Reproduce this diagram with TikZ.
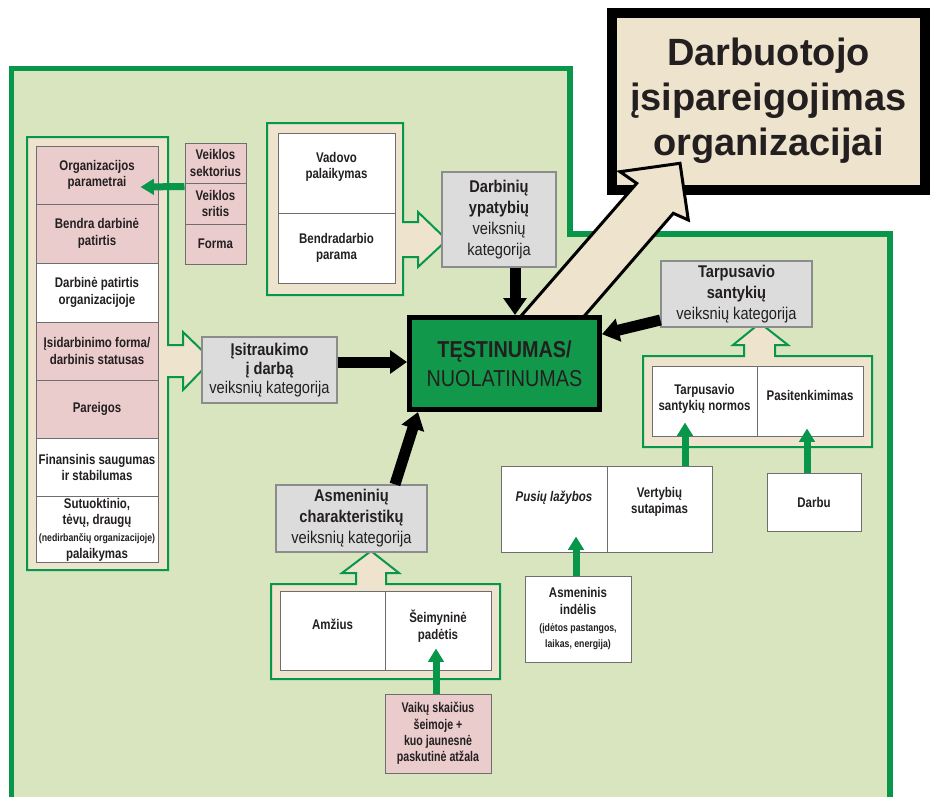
\documentclass[tikz,border=0pt]{standalone}
\usepackage{fontspec}
\setmainfont{Liberation Sans}
\newfontfamily\nf[FakeStretch=0.82]{Liberation Sans}
\newfontfamily\cf[FakeStretch=0.86]{Liberation Sans}
\newfontfamily\vf[FakeStretch=0.76]{Liberation Sans}
\usetikzlibrary{arrows.meta,calc}
\definecolor{bggreen}{HTML}{D8E5BF}
\definecolor{frgreen}{HTML}{07964A}
\definecolor{beige}{HTML}{EEE3CC}
\definecolor{pinkc}{HTML}{EBCCCC}
\definecolor{grayc}{HTML}{DCDCDC}
\definecolor{grayline}{HTML}{8C8C8C}
\definecolor{cellline}{HTML}{6E6E6E}
\definecolor{midgreen}{HTML}{12984A}
\definecolor{txt}{HTML}{231F20}
\begin{document}
\begin{tikzpicture}[x=0.75pt,y=-0.75pt,
  cell/.style={draw=cellline,line width=0.75pt,inner sep=1pt,align=center,text=txt,
    font={\nf\bfseries\fontsize{10.5}{12.5}\selectfont}},
  pinkcell/.style={cell,fill=pinkc},
  whitecell/.style={cell,fill=white},
  celltext/.style={inner sep=0pt,align=center,text=txt,font={\nf\bfseries\fontsize{10.5}{12.5}\selectfont}},
  cat/.style={draw=grayline,line width=0.9pt,fill=grayc,align=center,text=txt,inner sep=1pt,
    font={\cf\fontsize{12.75}{15.75}\selectfont}},
  frame/.style={draw=frgreen,line width=1.5pt,fill=beige,line join=miter},
  barrow/.style={draw=black,line width=8.25pt,-{Triangle[length=12.75pt,width=17pt]}},
  garrow/.style={draw=frgreen,line width=5.25pt,-{Triangle[length=10pt,width=11.5pt]}}]

\fill[white] (0,0) rectangle (930,796);
\useasboundingbox (0,0) rectangle (930,796);

% green region
\path[fill=bggreen,draw=frgreen,line width=4pt] (11.5,68.5) -- (570,68.5) -- (570,234) -- (890,234) -- (890,806) -- (11.5,806) -- cycle;

% title box
\node[draw=black,line width=7.5pt,fill=beige,minimum width=234.75pt,minimum height=132.75pt,
  inner sep=0pt,align=center,text=txt,font={\bfseries\fontsize{28.5}{33.75}\selectfont}]
  (title) at (768.5,101) {Darbuotojo\\įsipareigojimas\\organizacijai};

% big beige arrow
\draw[fill=beige,line width=2.25pt,line join=miter] (508.8,330) -- (636.7,183.3) -- (620,171.7) -- (680,163.3) -- (688.3,220) -- (673.3,213.3) -- (572.2,330) -- cycle;

% frames
\draw[frame] (27,137) -- (168,137) -- (168,345) -- (183,345) -- (183,332) -- (212,360) -- (183,390) -- (183,377) -- (168,377) -- (168,570) -- (27,570) -- cycle;
\draw[frame] (267,123) -- (403,123) -- (403,222) -- (418,222) -- (418,212) -- (447,240) -- (418,267) -- (418,257) -- (403,257) -- (403,295) -- (267,295) -- cycle;
\draw[frame] (643,356) -- (744,356) -- (744,345) -- (733,345) -- (760,323) -- (788,345) -- (775,345) -- (775,356) -- (872,356) -- (872,447) -- (643,447) -- cycle;
\draw[frame] (271,584) -- (356,584) -- (356,573) -- (342,573) -- (371,551) -- (399,573) -- (386,573) -- (386,584) -- (500,584) -- (500,679) -- (271,679) -- cycle;

% left column cells
\node[pinkcell,minimum width=91.5pt,minimum height=43.5pt] (c1) at (97,175) {Organizacijos\\parametrai};
\node[pinkcell,minimum width=91.5pt,minimum height=44.25pt] (c2) at (97,233.5) {Bendra darbinė\\patirtis};
\node[whitecell,minimum width=91.5pt,minimum height=44.25pt] (c3) at (97,292.5) {Darbinė patirtis\\organizacijoje};
\node[pinkcell,minimum width=91.5pt,minimum height=43.5pt] (c4) at (97,351) {Įsidarbinimo forma/\\darbinis statusas};
\node[pinkcell,minimum width=91.5pt,minimum height=43.5pt] (c5) at (97,409) {Pareigos};
\node[whitecell,minimum width=91.5pt,minimum height=44.25pt] (c6) at (97,467.5) {Finansinis saugumas\\ir stabilumas};
\node[whitecell,minimum width=91.5pt,minimum height=48.75pt] (c7) at (97,529.5) {Sutuoktinio,\\tėvų, draugų\\{\fontsize{8}{9}\selectfont (nedirbančių organizacijoje)}\\palaikymas};

% veiklos cells
\node[pinkcell,minimum width=45.75pt,minimum height=30pt] (v1) at (215.5,163) {Veiklos\\sektorius};
\node[pinkcell,minimum width=45.75pt,minimum height=30.75pt] (v2) at (215.5,203.5) {Veiklos\\sritis};
\node[pinkcell,minimum width=45.75pt,minimum height=30pt] (v3) at (215.5,244) {Forma};

% vadovo cells
\node[whitecell,minimum width=87.75pt,minimum height=60pt] (d1) at (336.5,173) {};
\node[celltext] (d1t) at ($(d1.center)+(0,-6)$) {Vadovo\\palaikymas};
\node[whitecell,minimum width=87.75pt,minimum height=52.5pt] (d2) at (336.5,248) {Bendradarbio\\parama};

% tarpusavio cells
\node[whitecell,minimum width=78.75pt,minimum height=52.5pt] (t1) at (704.5,401) {};
\node[celltext] (t1t) at ($(t1.center)+(0,-2)$) {Tarpusavio\\santykių normos};
\node[whitecell,minimum width=79.5pt,minimum height=52.5pt] (t2) at (810,401) {};
\node[celltext] (t2t) at ($(t2.center)+(0,-6)$) {Pasitenkimimas};
\node[whitecell,minimum width=70.5pt,minimum height=43.5pt] (darbu) at (814,502) {Darbu};

% pusiu / vertybiu
\node[whitecell,minimum width=79.5pt,minimum height=64.5pt] (p1) at (554,509) {};
\node[celltext,font={\nf\bfseries\itshape\fontsize{10.5}{12.5}\selectfont}] (p1t) at ($(p1.center)+(0,-11)$) {Pusių lažybos};
\node[whitecell,minimum width=78.75pt,minimum height=64.5pt] (p2) at (659.5,509) {};
\node[celltext] (p2t) at ($(p2.center)+(0,-7)$) {Vertybių\\sutapimas};

\node[whitecell,minimum width=79.5pt,minimum height=64.5pt] (asm) at (578,619) {Asmeninis\\indėlis\\{\fontsize{8}{10.5}\selectfont (įdėtos pastangos,}\\{\fontsize{8}{10.5}\selectfont laikas, energija)}};

% amzius cells
\node[whitecell,minimum width=78.75pt,minimum height=59.25pt] (a1) at (332.5,630.5) {};
\node[celltext] (a1t) at ($(a1.center)+(0,-6)$) {Amžius};
\node[whitecell,minimum width=79.5pt,minimum height=59.25pt] (a2) at (438,630.5) {};
\node[celltext] (a2t) at ($(a2.center)+(0,-4)$) {Šeimyninė\\padėtis};
\node[pinkcell,minimum width=79.5pt,minimum height=59.25pt,font={\vf\bfseries\fontsize{10.5}{12.25}\selectfont}] (vaik) at (438,733.5) {Vaikų skaičius\\šeimoje +\\kuo jaunesnė\\paskutinė atžala};

% category boxes
\node[cat,minimum width=85.5pt,minimum height=71.25pt] (g1) at (499,219.5) {{\bfseries Darbinių}\\{\bfseries ypatybių}\\veiksnių\\kategorija};
\node[cat,minimum width=101.25pt,minimum height=49.5pt,font={\cf\fontsize{12.75}{14.5}\selectfont}] (g2) at (269.5,370) {{\bfseries Įsitraukimo}\\{\bfseries į darbą}\\veiksnių kategorija};
\node[cat,minimum width=113.25pt,minimum height=49.5pt] (g3) at (736.5,294) {{\bfseries Tarpusavio}\\{\bfseries santykių}\\veiksnių kategorija};
\node[cat,minimum width=113.25pt,minimum height=50.25pt] (g4) at (351.5,518.5) {{\bfseries Asmeninių}\\{\bfseries charakteristikų}\\veiksnių kategorija};

% center box
\node[draw=black,line width=3.75pt,fill=midgreen,minimum width=142.5pt,minimum height=69pt,inner sep=0pt,
  align=center,text=txt,font={\cf\fontsize{17.25}{21.75}\selectfont}] (T) at (504.5,363.5) {{\bfseries TĘSTINUMAS/}\\NUOLATINUMAS};

% black arrows
\draw[barrow] ([xshift=12pt]g1.south) -- ([xshift=12pt]g1.south |- T.north);
\draw[barrow] ([yshift=6pt]g2.east) -- ([yshift=6pt]g2.east -| T.west);
\draw[barrow] ([yshift=-19.5pt]g3.west) -- ([yshift=22pt]T.east);
\draw[barrow] ([xshift=32.6pt]g4.north) -- ([xshift=8.25pt]T.south west);

% green arrows
\draw[garrow] ([yshift=-3pt]v2.north west) -- ($(c1.east)+(-18,12)$);
\draw[garrow] ([xshift=-1.5pt]asm.north) -- ($(p1.south)+(22,-16)$);
\draw[garrow] ($(p2.north)+(25.5,0)$) -- ($(t1.south)+(-19.5,-14)$);
\draw[garrow] ($(darbu.north)+(-7,0)$) -- ($(t2.south)+(-3,-8)$);
\draw[garrow] ($(vaik.north)+(-2,0)$) -- ($(a2.south)+(-2,-22)$);
\end{tikzpicture}
\end{document}
